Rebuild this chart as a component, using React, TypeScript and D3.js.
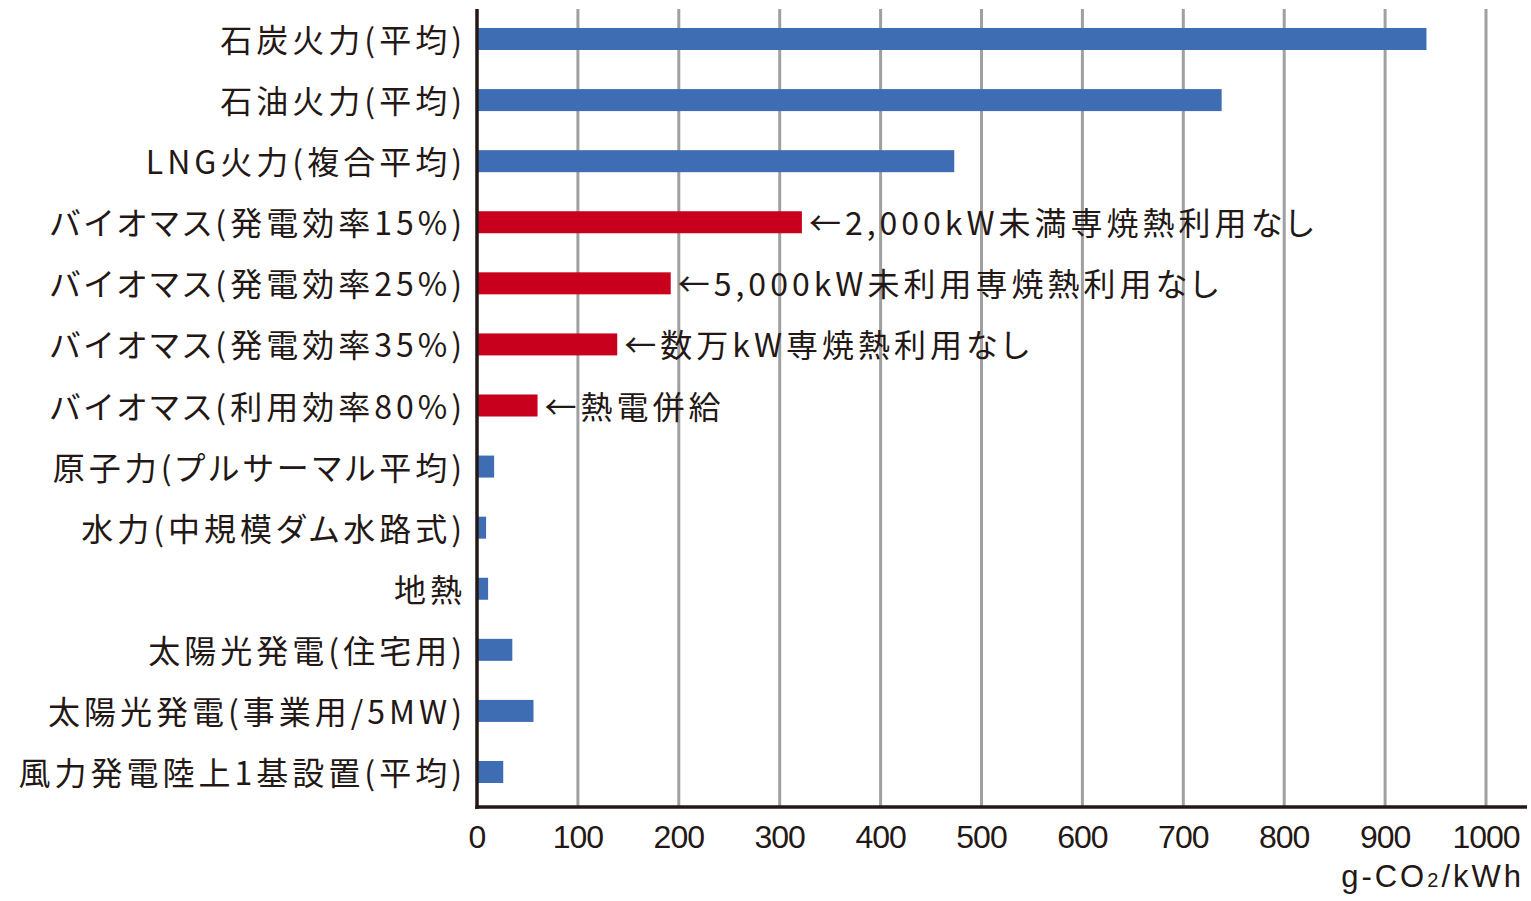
import React from "react";
import * as d3 from "d3";

const categories = [
  "石炭火力(平均)",
  "石油火力(平均)",
  "LNG火力(複合平均)",
  "バイオマス(発電効率15%)",
  "バイオマス(発電効率25%)",
  "バイオマス(発電効率35%)",
  "バイオマス(利用効率80%)",
  "原子力(プルサーマル平均)",
  "水力(中規模ダム水路式)",
  "地熱",
  "太陽光発電(住宅用)",
  "太陽光発電(事業用/5MW)",
  "風力発電陸上1基設置(平均)",
];
const values = [941, 738, 473, 322, 192, 139, 60, 17, 9, 11, 35, 56, 26];
const isBiomass = [false, false, false, true, true, true, true, false, false, false, false, false, false];
const annotations = [
  "", "", "",
  "←2,000kW未満専焼熱利用なし",
  "←5,000kW未利用専焼熱利用なし",
  "←数万kW専焼熱利用なし",
  "←熱電併給",
  "", "", "", "", "", "",
];
const ticks = [0, 100, 200, 300, 400, 500, 600, 700, 800, 900, 1000];

const W = 1531;
const H = 901;
const BLUE = "#3f6db4";
const RED = "#c8001d";
const DARK = "#231815";
const GRID = "#a0a0a0";
const JP = "'Noto Sans CJK JP', 'Noto Sans', sans-serif";
const NUM = "'Liberation Sans', Arial, sans-serif";
const jpStyle = { fontFeatureSettings: "'palt'" } as React.CSSProperties;

export default function App() {
  const x = d3.scaleLinear().domain([0, 1000]).range([477, 1486]);
  const y = d3.scalePoint<string>().domain(categories).range([39, 772]);
  const barH = 22;
  const top = 9;
  const bottom = 807;

  return (
    <svg width={W} height={H} style={{ position: "absolute", left: 0, top: 0, background: "#fff" }}>
      {ticks.filter((t) => t > 0).map((t) => (
        <line key={"g" + t} x1={x(t)} x2={x(t)} y1={top} y2={bottom} stroke={GRID} strokeWidth={3} />
      ))}
      {categories.map((c, i) => (
        <rect
          key={"b" + c}
          x={x(0)}
          y={(y(c) as number) - barH / 2}
          width={x(values[i]) - x(0)}
          height={barH}
          fill={isBiomass[i] ? RED : BLUE}
        />
      ))}
      <line x1={x(0)} x2={x(0)} y1={top} y2={bottom + 2} stroke={DARK} strokeWidth={3.5} />
      <line x1={x(0) - 1.75} x2={1527} y1={bottom} y2={bottom} stroke={DARK} strokeWidth={3.5} />
      {categories.map((c) => (
        <text
          key={"l" + c}
          x={466}
          y={(y(c) as number) - 1}
          textAnchor="end"
          dominantBaseline="central"
          fontFamily={JP}
          fontSize={32}
          letterSpacing={4}
          fill={DARK}
          style={jpStyle}
        >
          {c}
        </text>
      ))}
      {categories.map((c, i) =>
        annotations[i] ? (
          <text
            key={"a" + c}
            x={x(values[i]) + 7}
            y={(y(c) as number) - 1}
            dominantBaseline="central"
            fontFamily={JP}
            fontSize={32}
            letterSpacing={4}
            fill={DARK}
            style={jpStyle}
          >
            {annotations[i]}
          </text>
        ) : null
      )}
      {ticks.map((t) => (
        <text
          key={"t" + t}
          x={x(t)}
          y={848}
          textAnchor="middle"
          fontFamily={NUM}
          fontSize={32}
          fill={DARK}
          letterSpacing={-1}
        >
          {t}
        </text>
      ))}
      <text x={1524} y={887} textAnchor="end" fontFamily={NUM} fontSize={31} letterSpacing={3} fill={DARK}>
        g-CO<tspan fontSize={20}>2</tspan>/kWh
      </text>
    </svg>
  );
}
